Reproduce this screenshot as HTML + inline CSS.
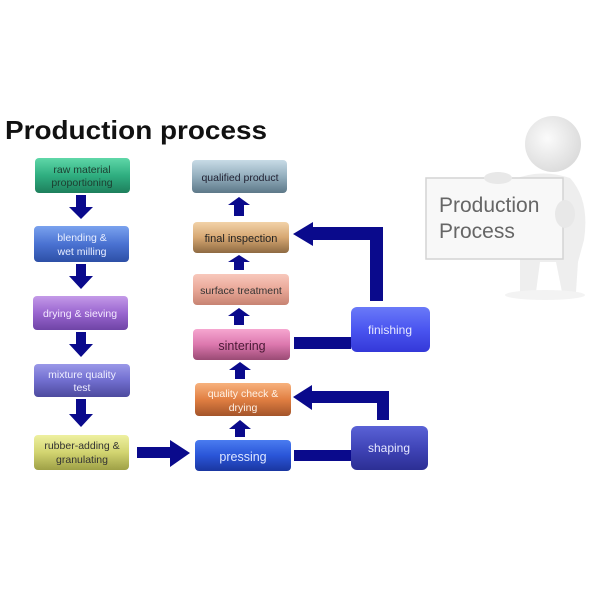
<!DOCTYPE html>
<html><head><style>
body{margin:0;background:#fff;}
svg{display:block;}
text{font-family:"Liberation Sans",sans-serif;}
</style></head><body>
<svg width="600" height="600" viewBox="0 0 600 600" xmlns="http://www.w3.org/2000/svg">
<defs>
<linearGradient id="g1" x1="0" y1="0" x2="0" y2="1"><stop offset="0" stop-color="#5fd7a8"/><stop offset="0.5" stop-color="#2fae80"/><stop offset="1" stop-color="#1e7f5c"/></linearGradient>
<linearGradient id="g2" x1="0" y1="0" x2="0" y2="1"><stop offset="0" stop-color="#7aa2ee"/><stop offset="0.5" stop-color="#4a72d2"/><stop offset="1" stop-color="#2d4fa6"/></linearGradient>
<linearGradient id="g3" x1="0" y1="0" x2="0" y2="1"><stop offset="0" stop-color="#c49ae8"/><stop offset="0.5" stop-color="#9a66d0"/><stop offset="1" stop-color="#6f44a6"/></linearGradient>
<linearGradient id="g4" x1="0" y1="0" x2="0" y2="1"><stop offset="0" stop-color="#9a98e8"/><stop offset="0.5" stop-color="#716ecf"/><stop offset="1" stop-color="#4d4a9e"/></linearGradient>
<linearGradient id="g5" x1="0" y1="0" x2="0" y2="1"><stop offset="0" stop-color="#eef0a0"/><stop offset="0.5" stop-color="#d2d470"/><stop offset="1" stop-color="#9ea046"/></linearGradient>
<linearGradient id="r1" x1="0" y1="0" x2="0" y2="1"><stop offset="0" stop-color="#c8dbe6"/><stop offset="0.5" stop-color="#93aebd"/><stop offset="1" stop-color="#5d7888"/></linearGradient>
<linearGradient id="r2" x1="0" y1="0" x2="0" y2="1"><stop offset="0" stop-color="#f2d2a8"/><stop offset="0.5" stop-color="#d6a772"/><stop offset="1" stop-color="#8e6a42"/></linearGradient>
<linearGradient id="r3" x1="0" y1="0" x2="0" y2="1"><stop offset="0" stop-color="#f8c8bc"/><stop offset="0.5" stop-color="#e9a898"/><stop offset="1" stop-color="#c78372"/></linearGradient>
<linearGradient id="r4" x1="0" y1="0" x2="0" y2="1"><stop offset="0" stop-color="#f6a6d0"/><stop offset="0.5" stop-color="#dc78ae"/><stop offset="1" stop-color="#9a4a74"/></linearGradient>
<linearGradient id="r5" x1="0" y1="0" x2="0" y2="1"><stop offset="0" stop-color="#f7b27e"/><stop offset="0.5" stop-color="#e17f42"/><stop offset="1" stop-color="#a3542a"/></linearGradient>
<linearGradient id="r6" x1="0" y1="0" x2="0" y2="1"><stop offset="0" stop-color="#4a7cf0"/><stop offset="0.5" stop-color="#2a55d8"/><stop offset="1" stop-color="#1a36a0"/></linearGradient>
<linearGradient id="b1" x1="0" y1="0" x2="0" y2="1"><stop offset="0" stop-color="#6a7af8"/><stop offset="0.5" stop-color="#4a55f0"/><stop offset="1" stop-color="#3438d8"/></linearGradient>
<linearGradient id="b2" x1="0" y1="0" x2="0" y2="1"><stop offset="0" stop-color="#5a62d6"/><stop offset="0.5" stop-color="#4045b8"/><stop offset="1" stop-color="#2c2f94"/></linearGradient>
<radialGradient id="hd" cx="0.4" cy="0.4" r="0.7"><stop offset="0" stop-color="#fbfbfb"/><stop offset="1" stop-color="#d8d8d8"/></radialGradient>
</defs>

<text x="5" y="139" font-size="26" font-weight="bold" fill="#111" textLength="262" lengthAdjust="spacingAndGlyphs">Production process</text>

<!-- person -->
<circle cx="553" cy="144" r="28" fill="url(#hd)"/>
<path d="M512 180 Q540 168 570 178 Q590 200 584 240 L578 262 L576 292 L562 292 L556 262 L540 262 L536 292 L520 292 L520 258 Z" fill="#eeeeee"/>
<ellipse cx="545" cy="295" rx="40" ry="5" fill="#f3f3f3"/>
<rect x="426" y="178" width="137" height="81" fill="#f8f8f8" stroke="#d4d4d4" stroke-width="1.5"/>
<ellipse cx="498" cy="178" rx="14" ry="6" fill="#e8e8e8"/>
<ellipse cx="565" cy="214" rx="10" ry="14" fill="#e8e8e8"/>
<text x="439" y="212" font-size="21" fill="#666">Production</text>
<text x="439" y="238" font-size="21" fill="#666">Process</text>

<g font-size="10.5" text-anchor="middle" fill="#222">
<rect x="35" y="158" width="95" height="35" rx="4" fill="url(#g1)"/>
<text x="82" y="173" fill="#1d3d30">raw material</text><text x="82" y="186" fill="#1d3d30">proportioning</text>
<rect x="34" y="226" width="95" height="36" rx="4" fill="url(#g2)"/>
<text x="82" y="241" fill="#e8eeff">blending &amp;</text><text x="82" y="255" fill="#e8eeff">wet milling</text>
<rect x="33" y="296" width="95" height="34" rx="4" fill="url(#g3)"/>
<text x="80" y="317" fill="#f4eaff">drying &amp; sieving</text>
<rect x="34" y="364" width="96" height="33" rx="4" fill="url(#g4)"/>
<text x="82" y="378" fill="#eeeeff">mixture quality</text><text x="82" y="391" fill="#eeeeff">test</text>
<rect x="34" y="435" width="95" height="35" rx="4" fill="url(#g5)"/>
<text x="82" y="449" fill="#333">rubber-adding &amp;</text><text x="82" y="463" fill="#333">granulating</text>

<rect x="192" y="160" width="95" height="33" rx="4" fill="url(#r1)"/>
<text x="240" y="181" fill="#223">qualified product</text>
<rect x="193" y="222" width="96" height="31" rx="4" fill="url(#r2)"/>
<text x="241" y="242" font-size="11" fill="#222">final inspection</text>
<rect x="193" y="274" width="96" height="31" rx="4" fill="url(#r3)"/>
<text x="241" y="294" fill="#333">surface treatment</text>
<rect x="193" y="329" width="97" height="31" rx="4" fill="url(#r4)"/>
<text x="242" y="350" font-size="12.5" fill="#4a1a35">sintering</text>
<rect x="195" y="383" width="96" height="33" rx="4" fill="url(#r5)"/>
<text x="243" y="397" fill="#fff2e6">quality check &amp;</text><text x="243" y="411" fill="#fff2e6">drying</text>
<rect x="195" y="440" width="96" height="31" rx="4" fill="url(#r6)"/>
<text x="243" y="461" font-size="12.5" fill="#dde6ff">pressing</text>

<rect x="351" y="307" width="79" height="45" rx="6" fill="url(#b1)"/>
<text x="390" y="334" font-size="12" fill="#e6e8ff">finishing</text>
<rect x="351" y="426" width="77" height="44" rx="6" fill="url(#b2)"/>
<text x="389" y="452" font-size="12" fill="#e6e8ff">shaping</text>
</g>

<g fill="#0a0a8c">
<polygon points="76,195 86,195 86,207 93,207 81,219 69,207 76,207"/>
<polygon points="76,264 86,264 86,276 93,276 81,289 69,276 76,276"/>
<polygon points="76,332 86,332 86,344 93,344 81,357 69,344 76,344"/>
<polygon points="76,399 86,399 86,414 93,414 81,427 69,414 76,414"/>
<polygon points="137,447 170,447 170,440 190,453 170,467 170,458 137,458"/>
<polygon points="234,216 244,216 244,205 250,205 239,197 228,205 234,205"/>
<polygon points="234,270 244,270 244,262 250,262 239,255 228,262 234,262"/>
<polygon points="234,325 244,325 244,316 250,316 239,308 228,316 234,316"/>
<polygon points="235,379 245,379 245,370 251,370 240,362 229,370 235,370"/>
<polygon points="235,437 245,437 245,429 251,429 240,420 229,429 235,429"/>
<rect x="294" y="337" width="57" height="12"/>
<rect x="294" y="450" width="57" height="11"/>
<polygon points="383,301 370,301 370,240 313,240 313,246 293,234 313,222 313,227 383,227"/>
<polygon points="389,420 377,420 377,403 312,403 312,410 293,397 312,385 312,391 389,391"/>
</g>
</svg>
</body></html>
